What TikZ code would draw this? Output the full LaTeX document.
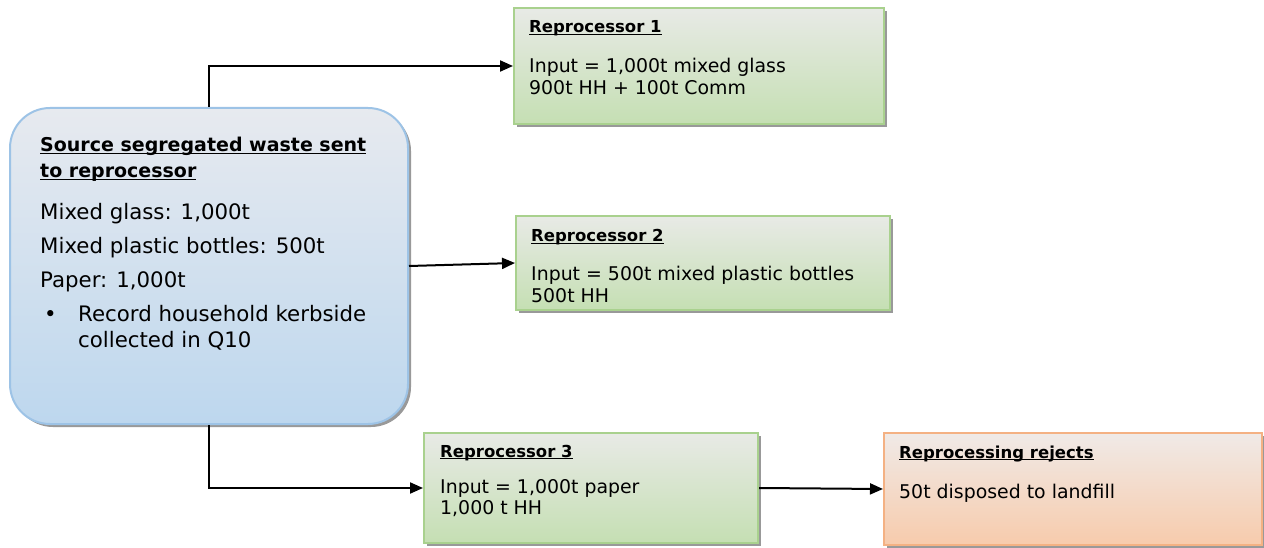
\documentclass[tikz,border=0pt]{standalone}
\usepackage{fontspec}
\setmainfont{DejaVu Sans}
\usepackage{tikz}
\usetikzlibrary{shadows,arrows.meta}

\definecolor{srcline}{HTML}{9DC3E6}
\definecolor{srctop}{HTML}{E7EAEF}
\definecolor{srcbot}{HTML}{BDD7EE}
\definecolor{rpline}{HTML}{A9D18E}
\definecolor{rptop}{HTML}{E8EAE6}
\definecolor{rpbot}{HTML}{C5DFB3}
\definecolor{rjline}{HTML}{F4B183}
\definecolor{rjtop}{HTML}{F0EAE7}
\definecolor{rjbot}{HTML}{F7CBAC}

\newcommand{\ulbf}[2]{{\fontsize{#1}{21.5}\selectfont\underline{\smash{\textbf{#2}}}}}

\tikzset{
  procbox/.style={draw=#1line, line width=2pt, top color=#1top, bottom color=#1bot,
    drop shadow={shadow xshift=3pt, shadow yshift=-3pt, fill=black!40, opacity=1},
    inner sep=0pt},
  txt/.style={inner sep=0pt, anchor=base west, font=\fontsize{18.9}{21.5}\selectfont},
  bigtxt/.style={inner sep=0pt, anchor=base west, font=\fontsize{21.3}{26}\selectfont},
  flow/.style={line width=2pt, -{Triangle[length=13pt,width=11pt]}}
}

\begin{document}
\begin{tikzpicture}[x=1pt,y=-1pt]

\useasboundingbox (0,0) rectangle (1264,548);

\node[procbox=src, rounded corners=40pt, minimum width=398pt, minimum height=316pt] (src) at (209,266) {};
\node[procbox=rp, minimum width=370pt, minimum height=116pt] (rp1) at (699,66) {};
\node[procbox=rp, minimum width=374pt, minimum height=94pt] (rp2) at (703,263) {};
\node[procbox=rp, minimum width=334pt, minimum height=110pt] (rp3) at (591,488) {};
\node[procbox=rj, minimum width=378pt, minimum height=112pt] (rej) at (1073,489) {};

\node[bigtxt] (srct) at (40,152) {\begin{minipage}[t]{360pt}
\ulbf{19}{Source segregated waste sent}\\
\ulbf{19}{to reprocessor}\\[16pt]
Mixed glass: 1,000t\\[8pt]
Mixed plastic bottles: 500t\\[8pt]
Paper: 1,000t\\[8pt]
\hspace*{4pt}\makebox[34pt][l]{\textbullet}Record household kerbside\\
\hspace*{38pt}collected in Q10
\end{minipage}};

\node[txt] (rp1t) at (529,33) {\begin{minipage}[t]{340pt}
\ulbf{16.5}{Reprocessor 1}\\[18.5pt]
Input = 1,000t mixed glass\\
900t HH + 100t Comm
\end{minipage}};

\node[txt] (rp2t) at (531,242) {\begin{minipage}[t]{340pt}
\ulbf{16.5}{Reprocessor 2}\\[17.5pt]
Input = 500t mixed plastic bottles\\
500t HH
\end{minipage}};

\node[txt] (rp3t) at (440,457) {\begin{minipage}[t]{300pt}
\ulbf{16.5}{Reprocessor 3}\\[14.5pt]
Input = 1,000t paper\\
1,000 t HH
\end{minipage}};

\node[txt] (rejt) at (899,458) {\begin{minipage}[t]{340pt}
\ulbf{16.5}{Reprocessing rejects}\\[18.5pt]
50t disposed to landfill
\end{minipage}};

\draw[flow] (src.north) |- (rp1.west);
\draw[flow] (src.east) -- (rp2.west);
\draw[flow] (src.south) |- (rp3.west);
\draw[flow] (rp3.east) -- (rej.west);

\end{tikzpicture}
\end{document}
